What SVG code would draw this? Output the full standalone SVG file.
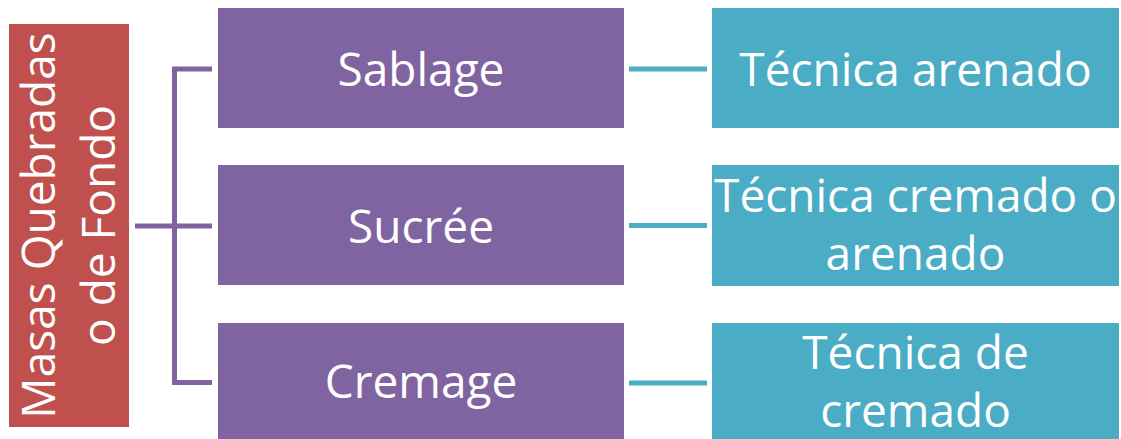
<svg xmlns="http://www.w3.org/2000/svg" width="1121" height="439" viewBox="0 0 1121 439">
<style>
.t{font-family:"Open Sans","Noto Sans",sans-serif;font-size:46px;fill:#FFFFFF;text-anchor:middle}
.red{fill:#C0504D}
.pur{fill:#8064A2}
.teal{fill:#4BACC6}
.cp{stroke:#8064A2;stroke-width:5;fill:none}
.ct{stroke:#4BACC6;stroke-width:5;fill:none}
</style>
<rect width="1121" height="439" fill="#FFFFFF"/>
<g id="connectors">
<path class="cp" d="M212 69 H174.5 V382.5 H212"/>
<path class="cp" d="M135 226 H212"/>
<path class="ct" d="M629 69 H707"/>
<path class="ct" d="M629 225.5 H707"/>
<path class="ct" d="M629 383 H707"/>
</g>
<g id="root">
<rect class="red" x="9" y="24" width="120" height="403"/>
<text class="t" transform="translate(55,225.5) rotate(-90)" x="0" y="0">Masas Quebradas</text>
<text class="t" transform="translate(115,225.5) rotate(-90)" x="0" y="0">o de Fondo</text>
</g>
<g id="sablage">
<rect class="pur" x="218" y="8" width="406" height="120"/>
<text class="t" x="421" y="85.5">Sablage</text>
</g>
<g id="sucree">
<rect class="pur" x="218" y="165" width="406" height="120"/>
<text class="t" x="421" y="242.5">Sucrée</text>
</g>
<g id="cremage">
<rect class="pur" x="218" y="323" width="406" height="120"/>
<text class="t" x="421" y="397.5">Cremage</text>
</g>
<g id="tec-arenado">
<rect class="teal" x="712" y="8" width="407" height="120"/>
<text class="t" x="915.5" y="85.5">Técnica arenado</text>
</g>
<g id="tec-cremado-arenado">
<rect class="teal" x="712" y="165" width="407" height="121"/>
<text class="t" x="915.5" y="212">Técnica cremado o</text>
<text class="t" x="915.5" y="270">arenado</text>
</g>
<g id="tec-cremado">
<rect class="teal" x="712" y="323" width="407" height="120"/>
<text class="t" x="915.5" y="368.5">Técnica de</text>
<text class="t" x="915.5" y="426.5">cremado</text>
</g>
</svg>
